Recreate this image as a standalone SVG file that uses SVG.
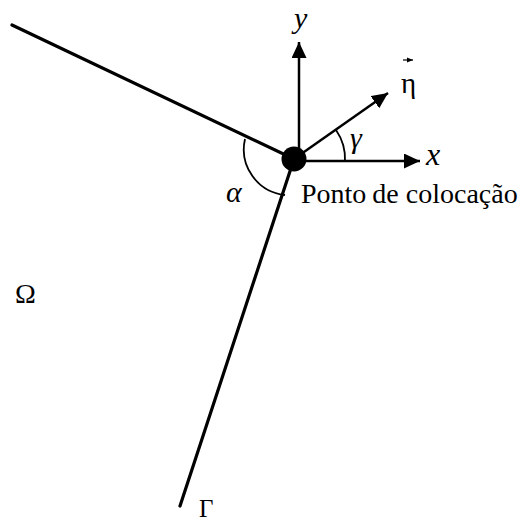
<svg xmlns="http://www.w3.org/2000/svg" width="522" height="523" viewBox="0 0 522 523">
<defs>
<style>
.bd{stroke:#000;stroke-width:3.2;fill:none;stroke-linecap:round}
.ax{stroke:#000;stroke-width:2.5;fill:none}
.arc{stroke:#000;stroke-width:1.8;fill:none}
.it{font-family:"Liberation Serif","DejaVu Serif",serif;font-style:italic;fill:#000}
.rm{font-family:"Liberation Serif","DejaVu Serif",serif;fill:#000}
</style>
<marker id="ah" markerUnits="userSpaceOnUse" markerWidth="16" markerHeight="15" refX="16" refY="7.5" orient="auto">
<path d="M0,0 L16,7.5 L0,15 z" fill="#000"/>
</marker>
<marker id="ahs" markerUnits="userSpaceOnUse" markerWidth="6" markerHeight="6" refX="6" refY="3" orient="auto">
<path d="M0,0.5 L6,3 L0,5.5 z" fill="#000"/>
</marker>
</defs>
<rect width="522" height="523" fill="#fff"/>
<g id="connectors">
<line class="bd" x1="12" y1="25" x2="294" y2="159"/>
<line class="bd" x1="294" y1="159" x2="180" y2="506"/>
<line class="ax" x1="299" y1="159" x2="299" y2="42" marker-end="url(#ah)"/>
<line class="ax" x1="294" y1="161" x2="420" y2="161" marker-end="url(#ah)"/>
<line class="ax" x1="294" y1="159" x2="388" y2="93" marker-end="url(#ah)"/>
<path class="arc" d="M345,161 A51,51 0 0 0 336,130"/>
<path class="arc" d="M245,139 A46,46 0 0 0 285,195"/>
</g>
<g id="ponto">
<circle cx="294" cy="159" r="12.5" fill="#000"/>
<text class="rm" x="301" y="203" font-size="28">Ponto<tspan dx="6">de colocação</tspan></text>
</g>
<g id="labels">
<text class="it" x="294" y="28" font-size="30">y</text>
<text class="it" x="426" y="165" font-size="32">x</text>
<text class="it" x="350" y="148" font-size="30">γ</text>
<text class="it" x="226" y="202" font-size="30">α</text>
<text class="rm" x="401" y="93" font-size="29">η</text>
<line x1="403" y1="60" x2="413" y2="60" stroke="#000" stroke-width="1.2" marker-end="url(#ahs)"/>
<text class="rm" x="15" y="303" font-size="28">Ω</text>
<text class="rm" x="199" y="517" font-size="25">Γ</text>
</g>
</svg>
